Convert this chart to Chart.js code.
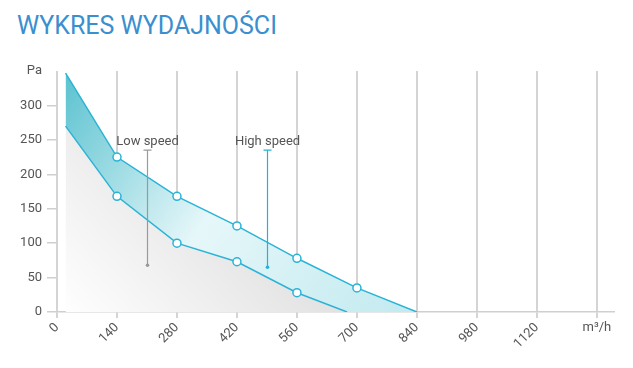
<!DOCTYPE html>
<html>
<head>
<meta charset="utf-8">
<script src="https://cdn.jsdelivr.net/npm/chart.js@4/dist/chart.umd.min.js"></script>
<style>
	body { margin: 0; background: #fff; }
	#wrap { position: relative; width: 633px; height: 368px; }
	#title { position: absolute; left: 17px; top: 11px; font-family: Roboto, sans-serif; font-size: 25px; color: #3a8fcf; }
	canvas { position: absolute; left: 0; top: 0; }
</style>
</head>
<body>
<div id="wrap">
	<div id="title">WYKRES WYDAJNOŚCI</div>
	<canvas id="myChart" width="633" height="368"></canvas>
</div>
<script>
// flow (m3/h) and pressure (Pa)
var highFlow = [20, 140, 280, 420, 560, 700, 840];
var highPa = [347, 225, 168, 125, 78, 35, 0];
var lowFlow = [20, 140, 280, 420, 560, 677, 840];
var lowPa = [270, 168, 100, 73, 28, 0, 0];

var xTicks = [0, 140, 280, 420, 560, 700, 840, 980, 1120, 1260];
var yTicks = [0, 50, 100, 150, 200, 250, 300, 350];

var noteLabels = ["Low speed", "High speed"];
var noteFlow = [210, 490];
var noteTop = [235, 235];
var noteBottom = [68, 65];

function toPoints(xs, ys) {
	var out = [];
	for (var i = 0; i < xs.length; i++) out.push({x: xs[i], y: ys[i]});
	return out;
}

var lineColor = "#2bb3d6";

function cyanFill(ctx) {
	var a = ctx.chart.chartArea;
	if (!a) return "rgba(90,200,215,0.5)";
	var g = ctx.chart.ctx.createLinearGradient(a.left, a.top, a.left + 380, a.top + 260);
	g.addColorStop(0, "#55c0ce");
	g.addColorStop(0.45, "#e6f7f9");
	g.addColorStop(1, "#bde8ee");
	return g;
}

function grayFill(ctx) {
	var a = ctx.chart.chartArea;
	if (!a) return "#eee";
	var g = ctx.chart.ctx.createLinearGradient(a.left, a.bottom, a.left + 200, a.top + 60);
	g.addColorStop(0, "#ffffff");
	g.addColorStop(1, "#dadada");
	return g;
}

var notes = {
	id: "notes",
	afterDatasetsDraw: function(chart) {
		var c = chart.ctx, xs = chart.scales.x, ys = chart.scales.y;
		var colors = ["#9a9a9a", "#22b4d8"];
		c.save();
		for (var i = 0; i < noteLabels.length; i++) {
			var x = Math.round(xs.getPixelForValue(noteFlow[i])) + 0.5;
			var t = ys.getPixelForValue(noteTop[i]);
			var b = ys.getPixelForValue(noteBottom[i]);
			c.strokeStyle = colors[i];
			c.fillStyle = colors[i];
			c.lineWidth = 1.2;
			c.beginPath();
			c.moveTo(x, t); c.lineTo(x, b);
			c.moveTo(x - 4, t); c.lineTo(x + 4, t);
			c.stroke();
			c.beginPath();
			c.arc(x, b, 1.8, 0, Math.PI * 2);
			c.fill();
			c.fillStyle = "#555";
			c.font = "13px Roboto";
			c.textAlign = "center";
			c.textBaseline = "alphabetic";
			c.fillText(noteLabels[i], x, t - 5);
		}
		// axis unit label
		c.fillStyle = "#555";
		c.font = "13px Roboto";
		c.textAlign = "center";
		c.textBaseline = "middle";
		c.fillText("m³/h", xs.getPixelForValue(1260), ys.bottom + 16);
		c.restore();
	}
};

var ctx = document.getElementById("myChart");

var myChart = new Chart(ctx, {
	type: "line",
	data: {
		datasets: [
			{
				label: "High speed",
				data: toPoints(highFlow, highPa),
				borderColor: lineColor,
				borderWidth: 1.5,
				backgroundColor: cyanFill,
				fill: "+1",
				tension: 0,
				pointRadius: [0, 4, 4, 4, 4, 4, 0],
				pointBackgroundColor: "#fff",
				pointBorderColor: lineColor,
				pointBorderWidth: 1.5
			},
			{
				label: "Low speed",
				data: toPoints(lowFlow, lowPa),
				borderColor: lineColor,
				borderWidth: 1.5,
				backgroundColor: grayFill,
				fill: "origin",
				tension: 0,
				pointRadius: [0, 4, 4, 4, 4, 0, 0],
				pointBackgroundColor: "#fff",
				pointBorderColor: lineColor,
				pointBorderWidth: 1.5,
				segment: {
					borderColor: function(s) { return s.p0DataIndex == 5 ? "rgba(0,0,0,0)" : lineColor; }
				}
			}
		]
	},
	options: {
		responsive: false,
		animation: false,
		layout: { padding: { top: 71, right: 19, left: 0, bottom: 0 } },
		plugins: {
			legend: { display: false },
			tooltip: { enabled: false },
			filler: { drawTime: "beforeDatasetsDraw" }
		},
		scales: {
			x: {
				type: "linear",
				min: 0,
				max: 1300,
				afterBuildTicks: function(s) { s.ticks = xTicks.map(function(v) { return {value: v}; }); },
				afterFit: function(s) { s.height = 56; },
				ticks: {
					minRotation: 45,
					maxRotation: 45,
					color: "#555",
					font: { family: "Roboto", size: 13 },
					padding: 2,
					callback: function(v) { return v == 1260 ? "" : v; }
				},
				grid: { color: "#d4d4d4", lineWidth: 2, tickLength: 6 },
				border: { display: true, color: "#cfcfcf", width: 1.5 }
			},
			y: {
				min: 0,
				max: 350,
				afterBuildTicks: function(s) { s.ticks = yTicks.map(function(v) { return {value: v}; }); },
				afterFit: function(s) { s.width = 57; },
				ticks: {
					color: "#555",
					font: { family: "Roboto", size: 13 },
					padding: 5,
					callback: function(v) { return v == 350 ? "Pa" : v; }
				},
				grid: {
					drawOnChartArea: false,
					tickLength: 10,
					color: function(c) { return c.tick && c.tick.value == 350 ? "rgba(0,0,0,0)" : "#cfcfcf"; },
					lineWidth: 1.5
				},
				border: { display: false }
			}
		}
	},
	plugins: [notes]
});
</script>
</body>
</html>
